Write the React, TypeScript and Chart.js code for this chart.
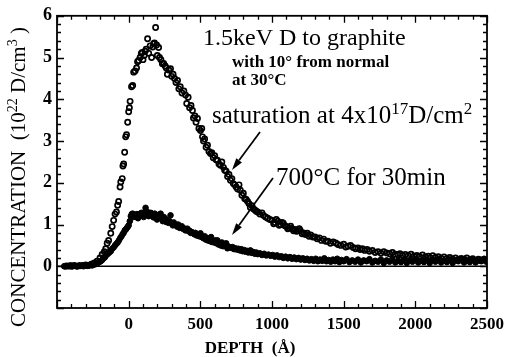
import React, { useEffect, useRef } from "react";
import { Chart, registerables } from "chart.js";

Chart.register(...registerables);

// Saturation at 4x10^17 D/cm2 (open circles): [depth Å, concentration 1e22 D/cm3]
const saturationPoints: [number, number][] = [
  [-440, 0.0], [-420, 0.01], [-400, 0.0], [-380, 0.02], [-360, 0.0], [-340, 0.01], [-320, 0.02], [-300, 0.03],
  [-280, 0.02], [-260, 0.05], [-240, 0.08], [-220, 0.12], [-200, 0.2], [-185, 0.28], [-170, 0.35], [-160, 0.42],
  [-150, 0.55], [-140, 0.62], [-125, 0.79], [-115, 0.95], [-105, 1.1], [-95, 1.25], [-85, 1.3], [-77, 1.46],
  [-70, 1.55], [-60, 1.9], [-55, 2.02], [-45, 2.1], [-40, 2.4], [-35, 2.45], [-28, 2.73], [-21, 3.1], [-15, 3.15],
  [-7, 3.45], [0, 3.7], [5, 3.8], [10, 3.95], [20, 4.3], [28, 4.33], [35, 4.65], [45, 4.68], [55, 4.75],
  [62, 4.9], [70, 4.93], [80, 5.0], [88, 5.1], [95, 5.12], [100, 4.95], [108, 5.05], [115, 5.15], [122, 5.2],
  [132, 5.45], [140, 5.1], [150, 5.28], [160, 5.0], [168, 5.25], [174, 5.33], [180, 5.35], [188, 5.72],
  [195, 5.3], [200, 5.05], [209, 5.24], [215, 5.0], [225, 4.95], [235, 4.85], [244, 4.86], [255, 4.8],
  [262, 4.75], [270, 4.6], [280, 4.7], [292, 4.73], [300, 4.55], [310, 4.6], [320, 4.5], [330, 4.4],
  [341, 4.45], [350, 4.25], [360, 4.3], [372, 4.15], [385, 4.2], [397, 4.1], [405, 3.9], [415, 4.05],
  [425, 3.8], [435, 3.85], [445, 3.73], [452, 3.55], [462, 3.6], [470, 3.45], [480, 3.54], [490, 3.3],
  [501, 3.25], [510, 3.3], [515, 3.1], [522, 3.0], [530, 3.05], [540, 2.85], [550, 2.9], [560, 2.75],
  [571, 2.7], [580, 2.72], [590, 2.6], [600, 2.65], [610, 2.55], [619, 2.54], [630, 2.45], [640, 2.42],
  [650, 2.5], [661, 2.37], [670, 2.3], [680, 2.28], [690, 2.15], [700, 2.2], [710, 2.06], [720, 2.1],
  [730, 1.98], [740, 1.95], [750, 1.9], [760, 1.85], [770, 1.95], [779, 1.82], [790, 1.7], [800, 1.75],
  [810, 1.62], [820, 1.6], [830, 1.55], [840, 1.5], [849, 1.41], [860, 1.45], [870, 1.38], [880, 1.35],
  [890, 1.32], [900, 1.3], [915, 1.25], [930, 1.28], [940, 1.22], [955, 1.18], [970, 1.15], [985, 1.12],
  [1000, 1.1], [1012, 1.02], [1020, 1.05], [1030, 1.12], [1040, 1.08], [1050, 0.98], [1060, 1.0],
  [1070, 1.05], [1079, 1.03], [1090, 0.97], [1100, 0.95], [1110, 0.9], [1120, 0.92], [1130, 0.96],
  [1140, 0.9], [1150, 0.85], [1160, 0.88], [1170, 0.84], [1180, 0.85], [1190, 0.9], [1197, 0.86],
  [1210, 0.78], [1220, 0.8], [1233, 0.76], [1246, 0.79], [1258, 0.72], [1270, 0.75], [1285, 0.7],
  [1300, 0.7], [1315, 0.66], [1330, 0.68], [1345, 0.62], [1360, 0.65], [1375, 0.6], [1390, 0.6],
  [1408, 0.55], [1427, 0.58], [1445, 0.56], [1460, 0.52], [1480, 0.5], [1500, 0.53], [1515, 0.46],
  [1530, 0.48], [1548, 0.5], [1566, 0.45], [1583, 0.42], [1600, 0.44], [1615, 0.4], [1630, 0.42],
  [1647, 0.38], [1663, 0.4], [1680, 0.36], [1700, 0.38], [1720, 0.33], [1740, 0.35], [1760, 0.31],
  [1780, 0.35], [1800, 0.32], [1820, 0.3], [1840, 0.33], [1860, 0.29], [1880, 0.27], [1893, 0.3],
  [1910, 0.26], [1930, 0.28], [1950, 0.25], [1970, 0.29], [1990, 0.24], [2010, 0.26], [2030, 0.23],
  [2050, 0.27], [2070, 0.22], [2090, 0.24], [2105, 0.2], [2122, 0.25], [2140, 0.21], [2160, 0.23],
  [2180, 0.19], [2200, 0.22], [2220, 0.18], [2240, 0.21], [2260, 0.17], [2280, 0.2], [2300, 0.16],
  [2320, 0.19], [2340, 0.17], [2359, 0.2], [2380, 0.15], [2400, 0.18], [2420, 0.14], [2440, 0.17],
  [2460, 0.15], [2480, 0.16], [2500, 0.14],
];

// 700°C for 30 min (filled circles)
const annealedPoints: [number, number][] = [
  [-450, 0.0], [-435, 0.01], [-420, 0.0], [-405, 0.02], [-390, 0.0], [-375, 0.01], [-360, 0.0], [-345, 0.02],
  [-330, 0.01], [-315, 0.0], [-300, 0.02], [-285, 0.01], [-270, 0.03], [-255, 0.02], [-243, 0.04], [-230, 0.05],
  [-215, 0.08], [-205, 0.1], [-195, 0.12], [-185, 0.15], [-174, 0.19], [-165, 0.22], [-155, 0.27], [-145, 0.3],
  [-135, 0.33], [-125, 0.36], [-115, 0.42], [-105, 0.45], [-95, 0.5], [-85, 0.54], [-77, 0.57], [-68, 0.62],
  [-58, 0.68], [-50, 0.72], [-42, 0.77], [-35, 0.8], [-27, 0.86], [-20, 0.88], [-12, 0.92], [-5, 0.95],
  [0, 0.98], [8, 1.08], [15, 1.2], [22, 1.25], [28, 1.26], [35, 1.18], [42, 1.22], [50, 1.2], [58, 1.25],
  [65, 1.15], [72, 1.22], [80, 1.2], [88, 1.28], [95, 1.22], [105, 1.18], [112, 1.3], [118, 1.4], [125, 1.25],
  [132, 1.3], [140, 1.2], [148, 1.24], [155, 1.28], [165, 1.2], [174, 1.17], [182, 1.26], [190, 1.22],
  [198, 1.12], [205, 1.2], [215, 1.24], [223, 1.26], [230, 1.15], [238, 1.08], [245, 1.18], [255, 1.14],
  [262, 1.06], [270, 1.1], [278, 1.04], [285, 1.08], [292, 1.22], [300, 1.02], [308, 0.98], [315, 1.05],
  [322, 1.0], [330, 0.98], [338, 0.95], [345, 1.0], [355, 0.92], [362, 0.93], [370, 0.96], [378, 0.9],
  [385, 0.91], [395, 0.86], [402, 0.89], [410, 0.9], [418, 0.84], [425, 0.85], [432, 0.8], [440, 0.82],
  [448, 0.8], [456, 0.77], [465, 0.8], [472, 0.74], [480, 0.75], [490, 0.72], [501, 0.79], [508, 0.7],
  [515, 0.7], [522, 0.67], [530, 0.72], [538, 0.64], [545, 0.68], [552, 0.62], [560, 0.65], [568, 0.6],
  [575, 0.7], [582, 0.58], [590, 0.6], [598, 0.57], [605, 0.62], [612, 0.55], [619, 0.62], [627, 0.52],
  [635, 0.55], [642, 0.5], [650, 0.57], [658, 0.48], [665, 0.5], [672, 0.52], [680, 0.55], [689, 0.43],
  [697, 0.47], [705, 0.46], [715, 0.44], [725, 0.46], [735, 0.41], [745, 0.43], [755, 0.4], [765, 0.42],
  [775, 0.38], [785, 0.41], [795, 0.36], [805, 0.39], [815, 0.35], [825, 0.37], [835, 0.33], [849, 0.38],
  [860, 0.32], [870, 0.34], [880, 0.3], [890, 0.33], [900, 0.29], [915, 0.31], [930, 0.27], [945, 0.3],
  [960, 0.26], [975, 0.28], [990, 0.25], [1005, 0.27], [1020, 0.23], [1035, 0.26], [1050, 0.22], [1065, 0.24],
  [1079, 0.2], [1095, 0.23], [1110, 0.19], [1125, 0.22], [1140, 0.18], [1155, 0.21], [1170, 0.17], [1185, 0.2],
  [1200, 0.16], [1215, 0.19], [1230, 0.15], [1245, 0.18], [1260, 0.14], [1275, 0.17], [1290, 0.13],
  [1305, 0.18], [1320, 0.12], [1335, 0.16], [1350, 0.13], [1365, 0.19], [1380, 0.12], [1395, 0.15],
  [1410, 0.11], [1425, 0.16], [1440, 0.12], [1455, 0.18], [1470, 0.1], [1485, 0.15], [1500, 0.12],
  [1520, 0.17], [1540, 0.1], [1560, 0.14], [1580, 0.11], [1600, 0.16], [1620, 0.09], [1640, 0.14],
  [1660, 0.12], [1680, 0.17], [1700, 0.09], [1720, 0.13], [1740, 0.11], [1760, 0.16], [1780, 0.08],
  [1800, 0.14], [1820, 0.11], [1840, 0.17], [1860, 0.09], [1880, 0.13], [1900, 0.1], [1920, 0.16],
  [1940, 0.08], [1960, 0.14], [1980, 0.11], [2000, 0.17], [2020, 0.09], [2040, 0.13], [2060, 0.1],
  [2080, 0.16], [2100, 0.08], [2120, 0.14], [2140, 0.11], [2160, 0.17], [2180, 0.09], [2200, 0.13],
  [2220, 0.1], [2240, 0.16], [2260, 0.08], [2280, 0.14], [2300, 0.12], [2320, 0.17], [2340, 0.09],
  [2360, 0.13], [2380, 0.1], [2400, 0.16], [2420, 0.09], [2440, 0.14], [2460, 0.12], [2480, 0.18],
  [2495, 0.11],
];

// Reference line at zero concentration
const baselinePoints: [number, number][] = [[-500, 0], [2500, 0]];

const xMin = -500;
const xMax = 2500;
const yMin = -1;
const yMax = 6;
const xTickValues = [0, 500, 1000, 1500, 2000, 2500];
const yTickValues = [-1, 0, 1, 2, 3, 4, 5, 6];
const xMinorStep = 100;
const yMinorStep = 0.2;

const FONT = '"Liberation Serif", "Times New Roman", serif';

type Seg = { t: string; sup?: boolean };

function drawRich(
  ctx: CanvasRenderingContext2D,
  segs: Seg[],
  x: number,
  y: number,
  size: number,
  weight: string,
  align: "left" | "center"
) {
  const supSize = Math.round(size * 0.68);
  const fontFor = (sup?: boolean) => `${weight} ${sup ? supSize : size}px ${FONT}`;
  let total = 0;
  const widths = segs.map((s) => {
    ctx.font = fontFor(s.sup);
    const w = ctx.measureText(s.t).width;
    total += w;
    return w;
  });
  let cx = align === "center" ? x - total / 2 : x;
  ctx.textAlign = "left";
  ctx.textBaseline = "alphabetic";
  segs.forEach((s, i) => {
    ctx.font = fontFor(s.sup);
    ctx.fillText(s.t, cx, s.sup ? y - size * 0.38 : y);
    cx += widths[i];
  });
}

function arrow(ctx: CanvasRenderingContext2D, x1: number, y1: number, x2: number, y2: number) {
  const ang = Math.atan2(y2 - y1, x2 - x1);
  const hl = 12;
  const hw = 3.5;
  const bx = x2 - hl * Math.cos(ang);
  const by = y2 - hl * Math.sin(ang);
  ctx.beginPath();
  ctx.moveTo(x1, y1);
  ctx.lineTo(bx, by);
  ctx.lineWidth = 1.7;
  ctx.strokeStyle = "#000";
  ctx.stroke();
  ctx.beginPath();
  ctx.moveTo(x2, y2);
  ctx.lineTo(bx + hw * Math.sin(ang), by - hw * Math.cos(ang));
  ctx.lineTo(bx - hw * Math.sin(ang), by + hw * Math.cos(ang));
  ctx.closePath();
  ctx.fillStyle = "#000";
  ctx.fill();
}

const framePlugin = {
  id: "frame",
  afterDraw(chart: any) {
    const ctx: CanvasRenderingContext2D = chart.ctx;
    const { left, right, top, bottom } = chart.chartArea;
    const xs = chart.scales.x;
    const ys = chart.scales.y;
    ctx.save();
    ctx.strokeStyle = "#000";
    ctx.lineWidth = 1.8;
    ctx.strokeRect(left, top, right - left, bottom - top);

    // inward ticks on all four sides
    ctx.lineWidth = 1.3;
    ctx.beginPath();
    for (let i = 0; i <= Math.round((xMax - xMin) / xMinorStep); i++) {
      const v = xMin + i * xMinorStep;
      const major = Math.abs(v % 500) < 1e-6;
      const len = major ? 7 : 4;
      const px = Math.round(xs.getPixelForValue(v)) + 0.5;
      ctx.moveTo(px, bottom);
      ctx.lineTo(px, bottom - len);
      ctx.moveTo(px, top);
      ctx.lineTo(px, top + len);
    }
    for (let i = 0; i <= Math.round((yMax - yMin) / yMinorStep); i++) {
      const v = yMin + i * yMinorStep;
      const major = Math.abs(v - Math.round(v)) < 1e-6;
      const len = major ? 7 : 4;
      const py = Math.round(ys.getPixelForValue(v)) + 0.5;
      ctx.moveTo(left, py);
      ctx.lineTo(left + len, py);
      ctx.moveTo(right, py);
      ctx.lineTo(right - len, py);
    }
    ctx.stroke();

    ctx.fillStyle = "#000";
    // annotations
    drawRich(ctx, [{ t: "1.5keV D to graphite" }], 203, 45, 24, "normal", "left");
    drawRich(ctx, [{ t: "with 10° from normal" }], 232, 67, 17, "bold", "left");
    drawRich(ctx, [{ t: "at 30°C" }], 232, 85, 17, "bold", "left");
    drawRich(
      ctx,
      [{ t: "saturation at 4x10" }, { t: "17", sup: true }, { t: "D/cm" }, { t: "2", sup: true }],
      212,
      123,
      25,
      "normal",
      "left"
    );
    drawRich(ctx, [{ t: "700°C for 30min" }], 276, 185, 25, "normal", "left");
    arrow(ctx, 260, 132, 232, 170);
    arrow(ctx, 273, 178, 232, 235);

    // axis titles
    drawRich(ctx, [{ t: "DEPTH  (Å)" }], 250, 353, 17, "bold", "center");
    ctx.save();
    ctx.translate(25, 177);
    ctx.rotate(-Math.PI / 2);
    drawRich(
      ctx,
      [{ t: "CONCENTRATION  (10" }, { t: "22", sup: true }, { t: " D/cm" }, { t: "3", sup: true }, { t: " )" }],
      0,
      0,
      21,
      "normal",
      "center"
    );
    ctx.restore();
    ctx.restore();
  },
};

export default function App() {
  const ref = useRef<HTMLCanvasElement | null>(null);
  useEffect(() => {
    if (!ref.current) return;
    const chart = new Chart(ref.current, {
      type: "scatter",
      data: {
        datasets: [
          {
            label: "baseline",
            data: baselinePoints.map(([x, y]) => ({ x, y })),
            showLine: true,
            borderColor: "#000",
            borderWidth: 1.6,
            pointRadius: 0,
          },
          {
            label: "700°C for 30min",
            data: annealedPoints.map(([x, y]) => ({ x, y })),
            pointRadius: 2.8,
            backgroundColor: "#000",
            borderColor: "#000",
            borderWidth: 1,
          },
          {
            label: "saturation",
            data: saturationPoints.map(([x, y]) => ({ x, y })),
            pointRadius: 2.6,
            backgroundColor: "rgba(255,255,255,0)",
            borderColor: "#000",
            borderWidth: 1.7,
          },
        ],
      },
      options: {
        responsive: false,
        animation: false,
        devicePixelRatio: 1,
        layout: { padding: { top: 15, right: 20, left: 0, bottom: 0 } },
        plugins: { legend: { display: false }, tooltip: { enabled: false } },
        scales: {
          x: {
            type: "linear",
            min: xMin,
            max: xMax,
            afterBuildTicks: (s: any) => {
              s.ticks = xTickValues.map((v) => ({ value: v }));
            },
            afterFit: (s: any) => {
              s.height = 49;
            },
            grid: { display: false, drawTicks: false },
            border: { display: false },
            ticks: {
              color: "#000",
              padding: 6,
              maxRotation: 0,
              font: { family: FONT, size: 17, weight: "bold" },
              callback: (v: any) => String(v),
            },
          },
          y: {
            type: "linear",
            min: yMin,
            max: yMax,
            afterBuildTicks: (s: any) => {
              s.ticks = yTickValues.map((v) => ({ value: v }));
            },
            afterFit: (s: any) => {
              s.width = 57;
            },
            grid: { display: false, drawTicks: false },
            border: { display: false },
            ticks: {
              color: "#000",
              padding: 5,
              font: { family: FONT, size: 18, weight: "bold" },
              callback: (v: any) => (v === -1 ? "" : String(v)),
            },
          },
        },
      },
      plugins: [framePlugin],
    });
    return () => chart.destroy();
  }, []);
  return (
    <div style={{ position: "absolute", left: 0, top: 0, width: 510, height: 357, background: "#fff" }}>
      <canvas ref={ref} width={510} height={357} />
    </div>
  );
}
